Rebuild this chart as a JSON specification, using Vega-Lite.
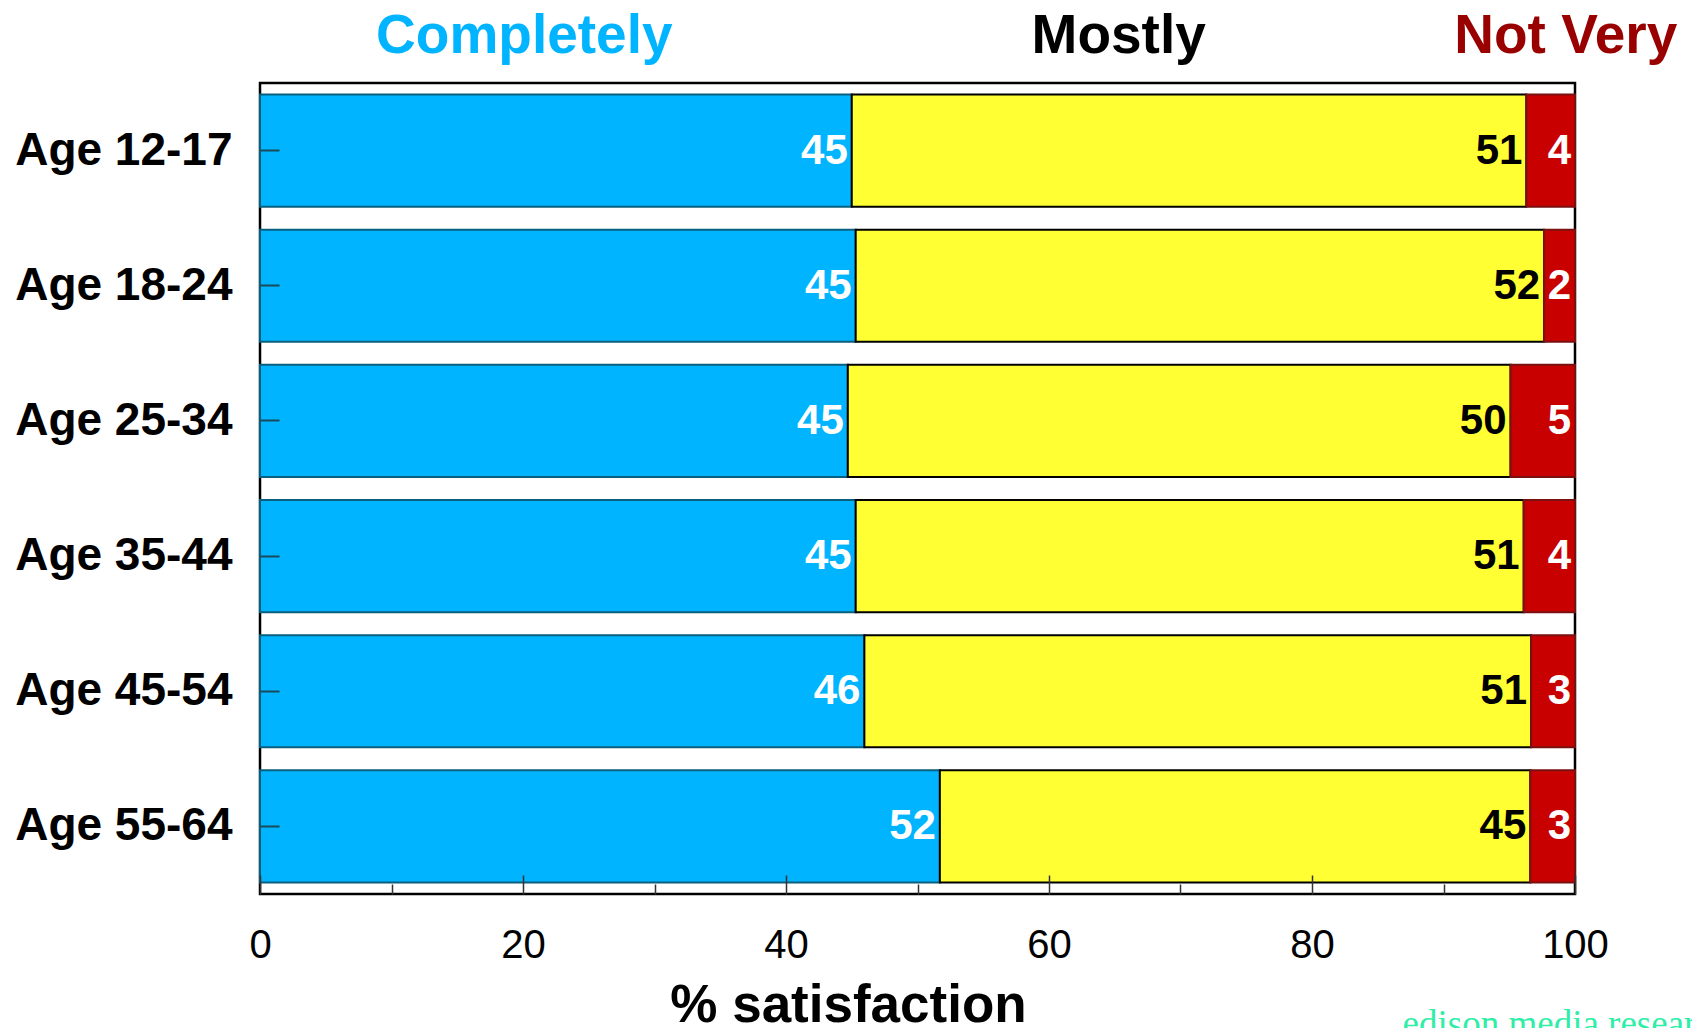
{
  "$schema": "https://vega.github.io/schema/vega-lite/v6.json",
  "background": "white",
  "padding": {"left": 13, "top": 0, "right": 0, "bottom": 0},
  "spacing": 10,
  "config": {"font": "Liberation Sans", "view": {"stroke": null}},
  "resolve": {"scale": {"color": "independent"}},
  "datasets": {
    "bars": [
      {"age": "Age 12-17", "series": "Completely", "order": 1, "value": 45.0, "label": 45},
      {"age": "Age 12-17", "series": "Mostly", "order": 2, "value": 51.3, "label": 51},
      {"age": "Age 12-17", "series": "Not Very", "order": 3, "value": 3.7, "label": 4},
      {"age": "Age 18-24", "series": "Completely", "order": 1, "value": 45.3, "label": 45},
      {"age": "Age 18-24", "series": "Mostly", "order": 2, "value": 52.35, "label": 52},
      {"age": "Age 18-24", "series": "Not Very", "order": 3, "value": 2.35, "label": 2},
      {"age": "Age 25-34", "series": "Completely", "order": 1, "value": 44.7, "label": 45},
      {"age": "Age 25-34", "series": "Mostly", "order": 2, "value": 50.4, "label": 50},
      {"age": "Age 25-34", "series": "Not Very", "order": 3, "value": 4.9, "label": 5},
      {"age": "Age 35-44", "series": "Completely", "order": 1, "value": 45.3, "label": 45},
      {"age": "Age 35-44", "series": "Mostly", "order": 2, "value": 50.8, "label": 51},
      {"age": "Age 35-44", "series": "Not Very", "order": 3, "value": 3.9, "label": 4},
      {"age": "Age 45-54", "series": "Completely", "order": 1, "value": 45.96, "label": 46},
      {"age": "Age 45-54", "series": "Mostly", "order": 2, "value": 50.7, "label": 51},
      {"age": "Age 45-54", "series": "Not Very", "order": 3, "value": 3.34, "label": 3},
      {"age": "Age 55-64", "series": "Completely", "order": 1, "value": 51.7, "label": 52},
      {"age": "Age 55-64", "series": "Mostly", "order": 2, "value": 44.9, "label": 45},
      {"age": "Age 55-64", "series": "Not Very", "order": 3, "value": 3.4, "label": 3}
    ],
    "heads": [
      {"head": "Completely", "pos": 20.1},
      {"head": "Mostly", "pos": 65.3},
      {"head": "Not Very", "pos": 99.3}
    ]
  },
  "title": {
    "text": "edison media research",
    "orient": "bottom",
    "anchor": "end",
    "frame": "bounds",
    "font": "Liberation Serif",
    "fontSize": 37,
    "fontWeight": "normal",
    "color": "#30EEA8",
    "offset": -26,
    "dx": 54
  },
  "vconcat": [
    {
      "width": 1315,
      "height": 71,
      "data": {"name": "heads"},
      "mark": {"type": "text", "fontSize": 55, "fontWeight": "bold", "baseline": "middle", "align": "center"},
      "encoding": {
        "x": {"field": "pos", "type": "quantitative", "scale": {"domain": [0, 100], "nice": false}, "axis": null},
        "text": {"field": "head"},
        "color": {
          "field": "head",
          "type": "nominal",
          "scale": {"domain": ["Completely", "Mostly", "Not Very"], "range": ["#00B4FF", "#000000", "#990000"]},
          "legend": null
        }
      }
    },
    {
      "width": 1315,
      "height": 811,
      "view": {"stroke": "black", "strokeWidth": 2.5},
      "data": {"name": "bars"},
      "transform": [
        {"stack": "value", "groupby": ["age"], "sort": [{"field": "order", "order": "ascending"}], "as": ["x0", "x1"]}
      ],
      "encoding": {
        "y": {
          "field": "age",
          "type": "nominal",
          "sort": ["Age 12-17", "Age 18-24", "Age 25-34", "Age 35-44", "Age 45-54", "Age 55-64"],
          "scale": {"paddingInner": 0.17, "paddingOuter": 0.085},
          "axis": {
            "title": null,
            "domain": false,
            "tickSize": -19,
            "tickColor": "#1a4a5a",
            "tickWidth": 2,
            "labelFontSize": 46,
            "labelFontWeight": "bold",
            "labelColor": "black",
            "labelLimit": 500,
            "labelPadding": 47,
            "zindex": 1
          }
        }
      },
      "layer": [
        {
          "mark": {"type": "bar", "strokeWidth": 2},
          "encoding": {
            "x": {
              "field": "x0",
              "type": "quantitative",
              "scale": {"domain": [0, 100], "nice": false},
              "axis": {
                "title": "% satisfaction",
                "titleFontSize": 53,
                "titleFontWeight": "bold",
                "titleColor": "black",
                "titleX": 588,
                "titlePadding": 14,
                "domain": false,
                "grid": false,
                "values": [0, 10, 20, 30, 40, 50, 60, 70, 80, 90, 100],
                "labelExpr": "datum.value % 20 === 0 ? datum.label : ''",
                "tickSize": {"condition": {"test": "datum.value % 20 === 0", "value": -19}, "value": -10},
                "tickColor": "#333333",
                "tickWidth": 1.5,
                "labelFontSize": 40,
                "labelColor": "black",
                "labelPadding": 50,
                "labelFlush": false,
                "zindex": 1
              }
            },
            "x2": {"field": "x1"},
            "color": {
              "field": "series",
              "type": "nominal",
              "scale": {"domain": ["Completely", "Mostly", "Not Very"], "range": ["#00B4FF", "#FFFF33", "#C80000"]},
              "legend": null
            },
            "stroke": {
              "field": "series",
              "type": "nominal",
              "scale": {"domain": ["Completely", "Mostly", "Not Very"], "range": ["#0B5F7E", "#000000", "#7A1010"]},
              "legend": null
            }
          }
        },
        {
          "mark": {"type": "text", "align": "right", "baseline": "middle", "dx": -4, "fontSize": 42, "fontWeight": "bold"},
          "encoding": {
            "x": {"field": "x1", "type": "quantitative"},
            "text": {"field": "label"},
            "color": {"condition": {"test": "datum.series === 'Mostly'", "value": "black"}, "value": "white"}
          }
        }
      ]
    }
  ]
}
